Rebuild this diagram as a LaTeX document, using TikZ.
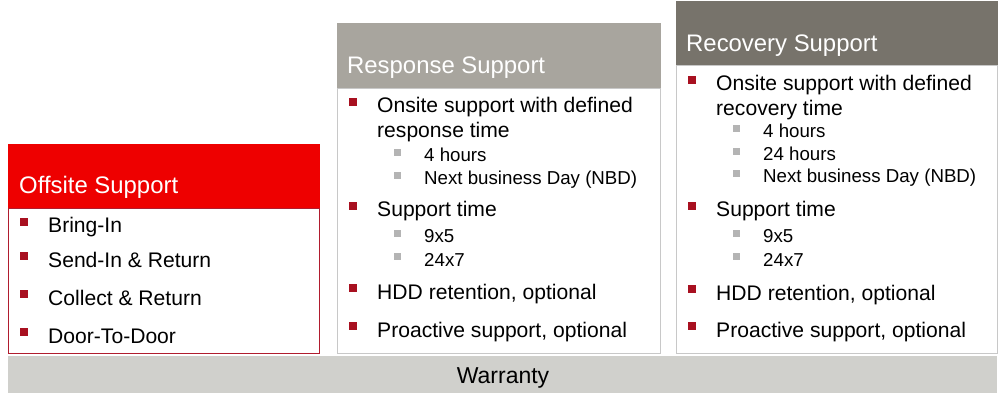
\documentclass[tikz,border=0pt]{standalone}
\usepackage{fontspec}
\setmainfont{Liberation Sans}
\definecolor{hdrred}{RGB}{238,0,0}
\definecolor{bodyred}{RGB}{176,28,46}
\definecolor{hdrresp}{RGB}{168,165,158}
\definecolor{hdrrec}{RGB}{119,115,107}
\definecolor{warr}{RGB}{208,208,204}
\definecolor{lgray}{RGB}{200,200,200}
\definecolor{bulred}{RGB}{168,16,32}
\definecolor{bulgray}{RGB}{180,180,180}
\tikzset{
  hdrtxt/.style={anchor=base west, inner sep=0pt, text=white, font=\fontsize{23.9}{28}\selectfont},
  item/.style={anchor=base west, inner sep=0pt, text=black, font=\fontsize{21.1}{25}\selectfont},
  subitem/.style={anchor=base west, inner sep=0pt, text=black, font=\fontsize{18.7}{22}\selectfont},
  rbul/.style={fill=bulred, draw=none, minimum size=8.5pt, inner sep=0pt},
  gbul/.style={fill=bulgray, draw=none, minimum size=7.5pt, inner sep=0pt},
}
\newcommand{\itm}[4]{% x, baseline, name, text
  \node[rbul] (#3b) at (#1-24, #2-11) {};
  \node[item] (#3) at (#1, #2) {#4};
}
\newcommand{\sitm}[4]{%
  \node[gbul] (#3b) at (#1-26.5, #2-9.5) {};
  \node[subitem] (#3) at (#1, #2) {#4};
}
\begin{document}
\begin{tikzpicture}[x=1pt,y=-1pt]
\useasboundingbox (0,0) rectangle (1000,403);
\fill[white] (0,0) rectangle (1000,403);
% Warranty bar
\fill[warr] (8,356) rectangle (997,393);
\node[anchor=base, inner sep=0pt, font=\fontsize{23}{27}\selectfont] (warranty) at (503,383) {Warranty};
% Offsite
\fill[hdrred] (8,144) rectangle (320,209);
\draw[bodyred, line width=1pt] (8.5,209) rectangle (319.5,353.5);
\node[hdrtxt] (offh) at (19,194) {Offsite Support};
\itm{48}{233}{o1}{Bring-In}
\itm{48}{267}{o2}{Send-In \& Return}
\itm{48}{305}{o3}{Collect \& Return}
\itm{48}{343}{o4}{Door-To-Door}
% Response
\fill[hdrresp] (337,23) rectangle (661,88);
\draw[lgray, line width=0.8pt] (337.5,88) rectangle (660.5,353.5);
\node[hdrtxt] (resh) at (347,74) {Response Support};
\itm{377}{113}{r1}{Onsite support with defined}
\node[item] (r1b2) at (377,138) {response time};
\sitm{424}{162}{r2}{4 hours}
\sitm{424}{185}{r3}{Next business Day (NBD)}
\itm{377}{217}{r4}{Support time}
\sitm{424}{243}{r5}{9x5}
\sitm{424}{266}{r6}{24x7}
\itm{377}{299}{r7}{HDD retention, optional}
\itm{377}{337}{r8}{Proactive support, optional}
% Recovery
\fill[hdrrec] (676,1) rectangle (998,65);
\draw[lgray, line width=0.8pt] (676.5,65) rectangle (997.5,353.5);
\node[hdrtxt] (rech) at (686,52) {Recovery Support};
\itm{716}{91}{c1}{Onsite support with defined}
\node[item] (c1b2) at (716,116) {recovery time};
\sitm{763}{138}{c2}{4 hours}
\sitm{763}{161}{c3}{24 hours}
\sitm{763}{183}{c4}{Next business Day (NBD)}
\itm{716}{217}{c5}{Support time}
\sitm{763}{243}{c6}{9x5}
\sitm{763}{266}{c7}{24x7}
\itm{716}{300}{c8}{HDD retention, optional}
\itm{716}{337}{c9}{Proactive support, optional}
\end{tikzpicture}
\end{document}
